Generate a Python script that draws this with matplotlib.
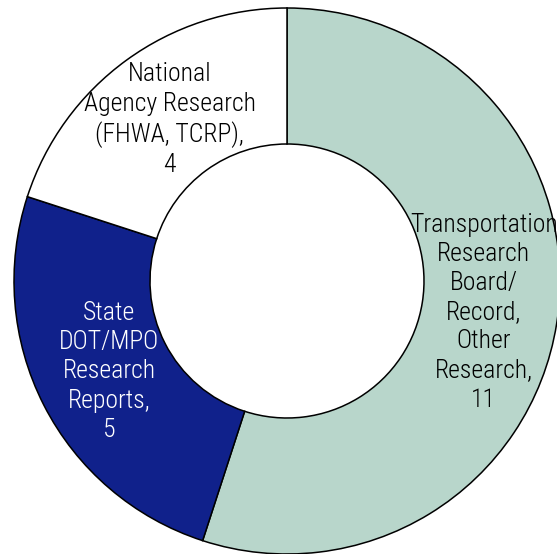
import matplotlib
matplotlib.use("Agg")
import matplotlib.pyplot as plt
from matplotlib import font_manager

categories = [
    "Transportation\nResearch\nBoard/\nRecord,\nOther\nResearch,\n11",
    "State\nDOT/MPO\nResearch\nReports,\n5",
    "National\nAgency Research\n(FHWA, TCRP),\n4",
]
values = [11, 5, 4]
colors = ["#b8d6cb", "#10218b", "#ffffff"]
text_colors = ["#000000", "#ffffff", "#000000"]

names = {f.name for f in font_manager.fontManager.ttflist}
family = [f for f in ["Roboto Condensed", "Archivo Narrow", "Liberation Sans"] if f in names][:1] + ["DejaVu Sans"]

W, H = 557, 554
fig = plt.figure(figsize=(W / 100, H / 100), dpi=100)
ax = fig.add_axes([0, 0, 1, 1])
ax.set_xlim(0, W)
ax.set_ylim(0, H)
ax.set_aspect("equal")
ax.axis("off")

R = 273
wedges, texts = ax.pie(
    values, labels=categories, colors=colors, startangle=90, counterclock=False,
    center=(287, H - 281), radius=R, labeldistance=0.73,
    wedgeprops=dict(width=136, edgecolor="black", linewidth=1.1),
    textprops=dict(fontsize=18.5, family=family, fontweight="light"),
)
for t, c in zip(texts, text_colors):
    t.set_ha("center")
    t.set_va("center")
    t.set_color(c)
    t.set_linespacing(1.27)
ax.set_xlim(0, W)
ax.set_ylim(0, H)

fig.savefig("out.png", dpi=100)
